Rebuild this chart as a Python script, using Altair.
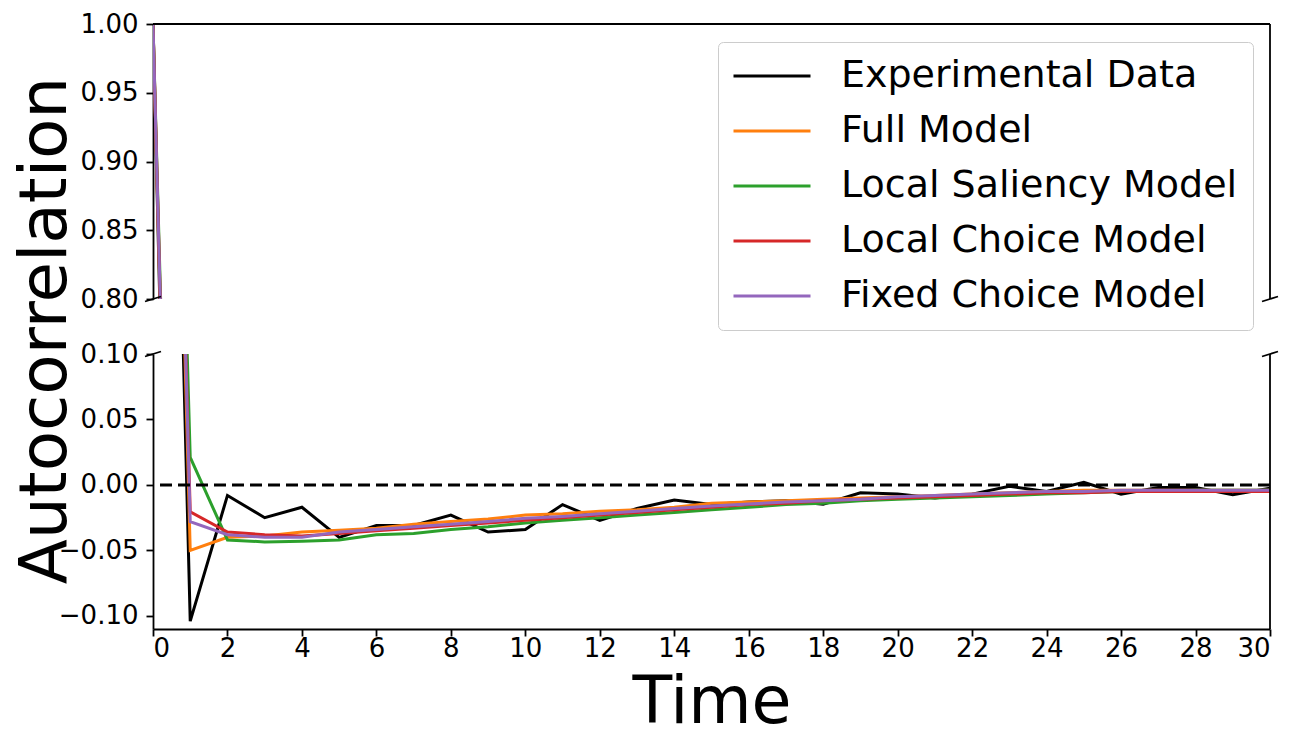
import altair as alt
import pandas as pd

time = list(range(31))
experimental = [1.0, -0.104, -0.008, -0.025, -0.017, -0.040, -0.031, -0.031, -0.023, -0.036, -0.034,
                -0.015, -0.027, -0.018, -0.0115, -0.015, -0.013, -0.012, -0.0147, -0.006, -0.007,
                -0.010, -0.007, -0.001, -0.005, 0.002, -0.007, -0.002, -0.002, -0.0075, -0.0025]
full_model = [1.0, -0.050, -0.040, -0.039, -0.036, -0.0345, -0.033, -0.030, -0.028, -0.026, -0.023,
              -0.022, -0.020, -0.019, -0.017, -0.014, -0.013, -0.012, -0.011, -0.010, -0.009,
              -0.008, -0.007, -0.006, -0.005, -0.004, -0.004, -0.004, -0.004, -0.004, -0.004]
local_saliency = [1.0, 0.021, -0.042, -0.0435, -0.043, -0.042, -0.038, -0.037, -0.034, -0.032, -0.029,
                  -0.027, -0.025, -0.023, -0.021, -0.019, -0.017, -0.015, -0.014, -0.012, -0.011,
                  -0.010, -0.009, -0.008, -0.007, -0.006, -0.005, -0.005, -0.004, -0.004, -0.004]
local_choice = [1.0, -0.0205, -0.036, -0.038, -0.039, -0.037, -0.035, -0.033, -0.031, -0.029, -0.027,
                -0.025, -0.023, -0.021, -0.019, -0.017, -0.015, -0.014, -0.012, -0.011, -0.010,
                -0.009, -0.008, -0.007, -0.006, -0.006, -0.005, -0.005, -0.005, -0.005, -0.005]
fixed_choice = [1.0, -0.028, -0.038, -0.040, -0.040, -0.036, -0.034, -0.032, -0.030, -0.028, -0.0255,
                -0.024, -0.022, -0.020, -0.018, -0.016, -0.0145, -0.013, -0.012, -0.011, -0.009,
                -0.008, -0.007, -0.006, -0.005, -0.005, -0.004, -0.004, -0.004, -0.004, -0.004]

series_names = ["Experimental Data", "Full Model", "Local Saliency Model",
                "Local Choice Model", "Fixed Choice Model"]
series_colors = ["#000000", "#ff7f0e", "#2ca02c", "#d62728", "#9467bd"]
top_ticks = [0.80, 0.85, 0.90, 0.95, 1.00]
bottom_ticks = [-0.10, -0.05, 0.00, 0.05, 0.10]
x_ticks = list(range(0, 31, 2))

rows = []
for name, vals in zip(series_names, [experimental, full_model, local_saliency, local_choice, fixed_choice]):
    for t, v in zip(time, vals):
        rows.append({"Time": t, "value": v, "series": name})
df = pd.DataFrame(rows)
one = pd.DataFrame({"k": [0]})

W = 1117
H = 275
FONT = "DejaVu Sans"
LW = 3
SW = 1.8

xscale = alt.Scale(domain=[0, 30], nice=False, zero=False)
cscale = alt.Scale(domain=series_names, range=series_colors)

axis_common = dict(domainColor="black", domainWidth=SW, tickColor="black", tickWidth=SW,
                   tickSize=7, labelFont=FONT, labelFontSize=26, labelColor="black",
                   grid=False)


def rule(**enc):
    return alt.Chart(one).mark_rule(color="black", strokeWidth=SW).encode(**enc)


# ---- top panel ----
top_lines = alt.Chart(df).mark_line(clip=True, strokeWidth=LW).encode(
    x=alt.X("Time:Q", scale=xscale, axis=None),
    y=alt.Y("value:Q", scale=alt.Scale(domain=[0.8, 1.0], nice=False, zero=False),
            axis=alt.Axis(values=top_ticks, format=".2f", title=None, labelPadding=8,
                          **axis_common)),
    color=alt.Color("series:N", scale=cscale, legend=alt.Legend(
        title=None, orient="none", legendX=565, legendY=18, direction="vertical",
        symbolType="M-3.85,0L3.85,0", symbolSize=400, symbolStrokeWidth=LW,
        symbolOffset=20, labelFont=FONT, labelFontSize=38, labelColor="black",
        labelOffset=50, labelLimit=0, rowPadding=17, padding=15,
        strokeColor="#cccccc", fillColor="white", cornerRadius=5)),
)

top = alt.layer(
    top_lines,
    rule(x=alt.value(0), x2=alt.value(W), y=alt.value(0)),
    rule(x=alt.value(W), y=alt.value(0), y2=alt.value(H)),
    rule(x=alt.value(-8), x2=alt.value(8), y=alt.value(H + 2.5), y2=alt.value(H - 2.5)),
    rule(x=alt.value(W - 8), x2=alt.value(W + 8), y=alt.value(H + 2.5), y2=alt.value(H - 2.5)),
).properties(width=W, height=H)

# ---- bottom panel ----
bottom_lines = alt.Chart(df).mark_line(clip=True, strokeWidth=LW).encode(
    x=alt.X("Time:Q", scale=xscale,
            axis=alt.Axis(values=x_ticks, format="d", title="Time", titleFont=FONT,
                          titleFontSize=65, titleFontWeight="normal", titleColor="black",
                          titlePadding=10, labelPadding=-1, **axis_common)),
    y=alt.Y("value:Q", scale=alt.Scale(domain=[-0.11, 0.10], nice=False, zero=False),
            axis=alt.Axis(values=bottom_ticks, format=".2f", title="Autocorrelation",
                          titleFont=FONT, titleFontSize=66, titleFontWeight="normal",
                          titleColor="black", titleAngle=270, titleAlign="center",
                          titleBaseline="top", titleX=-140, titleY=-24,
                          labelPadding=8, **axis_common)),
    color=alt.Color("series:N", scale=cscale, legend=None),
)

zero_line = alt.Chart(one).mark_rule(color="black", strokeWidth=LW, strokeDash=[12, 6]).encode(
    y=alt.datum(0)
)

bottom = alt.layer(
    bottom_lines,
    zero_line,
    rule(x=alt.value(W), y=alt.value(0), y2=alt.value(H)),
    rule(x=alt.value(-8), x2=alt.value(8), y=alt.value(2.5), y2=alt.value(-2.5)),
    rule(x=alt.value(W - 8), x2=alt.value(W + 8), y=alt.value(2.5), y2=alt.value(-2.5)),
).properties(width=W, height=H)

chart = alt.vconcat(top, bottom, spacing=55, bounds="flush").resolve_scale(
    y="independent", color="independent"
).properties(
    padding={"left": 3, "top": 3, "right": 5, "bottom": 0},
    background="white",
).configure_view(stroke="transparent", strokeWidth=0)

chart.save("out.html", embed_options={"renderer": "svg", "actions": False})
